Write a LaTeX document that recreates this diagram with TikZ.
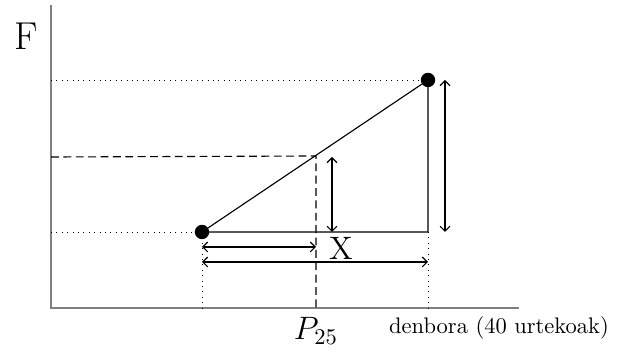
\documentclass[tikz,border=0pt]{standalone}
\usetikzlibrary{arrows.meta}
\begin{document}
\begin{tikzpicture}[x=0.4444pt,y=-0.4444pt,
  axis/.style={draw=gray,line width=0.7pt},
  thin line/.style={draw=black,line width=0.5pt},
  dotline/.style={draw=black,dotted,line width=0.4pt},
  dashline/.style={draw=black,dash pattern=on 3.5pt off 2pt,line width=0.5pt},
  dimarrow/.style={draw=black,line width=0.5pt,{Straight Barb[length=2.2pt,width=4.4pt]}-{Straight Barb[length=2.2pt,width=4.4pt]}},
  dot/.style={circle,fill=black,inner sep=0pt,minimum size=6.4pt}]
\useasboundingbox (0,0) rectangle (624,355);
% axes
\coordinate (ytop) at (51,5);
\coordinate (O) at (51,308);
\coordinate (xend) at (519,308);
\draw[axis] (ytop) -- (O) -- (xend);
% key coordinates
\coordinate (yA) at (51,232);
\coordinate (yB) at (51,80);
\coordinate (yM) at (51,157);
\coordinate (M) at (316,156);
\coordinate (Mx) at (316,308);
\coordinate (Ax) at (202,308);
\coordinate (Bx) at (428,308);
\coordinate (C) at (428,232);
% dotted guides
\draw[dotline] (yB) -- (428,80);
\draw[dotline] (yA) -- (202,232);
\draw[dotline] (202,232) -- (Ax);
\draw[dotline] (C) -- (Bx);
% dashed guides
\draw[dashline] (yM) -- (M) -- (Mx);
% triangle
\draw[thin line] (202,232) -- (428,80) -- (C) -- cycle;
% points
\node[dot] (A) at (202,232) {};
\node[dot] (B) at (428,80) {};
% dimension arrows
\coordinate (h1a) at (332,157);
\coordinate (h1b) at (332,232);
\draw[dimarrow] (h1a) -- (h1b);
\coordinate (h2a) at (445,80);
\coordinate (h2b) at (445,232);
\draw[dimarrow] (h2a) -- (h2b);
\coordinate (w1a) at (202,247);
\coordinate (w1b) at (316,247);
\draw[dimarrow] (w1a) -- (w1b);
\coordinate (w2a) at (202,262);
\coordinate (w2b) at (428,262);
\draw[dimarrow] (w2a) -- (w2b);
% labels
\node[font=\Large] (X) at (341,248) {X};
\node[font=\LARGE] (F) at (26,36) {F};
\node[font=\Large] (P) at (316,331) {$P_{25}$};
\node (den) at (499,328) {denbora (40 urtekoak)};
\end{tikzpicture}
\end{document}
